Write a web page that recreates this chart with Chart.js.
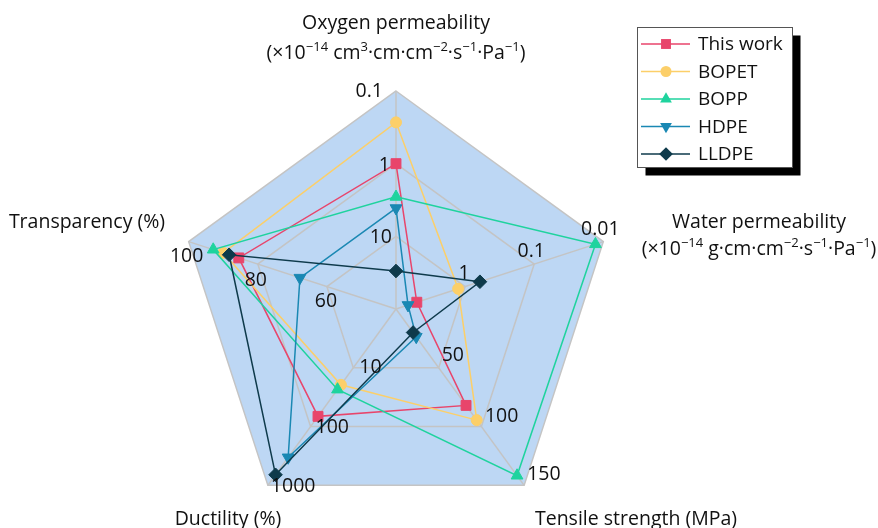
<!DOCTYPE html>
<html>
<head>
<meta charset="utf-8">
<script src="https://cdn.jsdelivr.net/npm/chart.js@4.4.1/dist/chart.umd.min.js"></script>
<style>
  html, body { margin: 0; padding: 0; background: #ffffff; overflow: hidden; }
  canvas { display: block; }
</style>
</head>
<body>
<canvas id="c" width="878" height="528"></canvas>
<script>
// ---------- data ----------
const axisNames = ['Oxygen permeability', 'Water permeability', 'Tensile strength (MPa)', 'Ductility (%)', 'Transparency (%)'];
const seriesNames = ['This work', 'BOPET', 'BOPP', 'HDPE', 'LLDPE'];
// values in axis order: oxygen perm, water perm, tensile strength, ductility, transparency
const thisWork = [1.0, 5.0, 82, 67, 85.5];
const bopet    = [0.27, 1.26, 94.5, 19.5, 90];
const bopp     = [2.86, 0.013, 141.7, 23.4, 92.9];
const hdpe     = [4.1, 6.7, 23.7, 335, 67.8];
const lldpe    = [30, 0.61, 20, 661, 88.3];
// tick labels per axis (inner ring -> outer ring)
const oxygenTicks       = ['10', '1', '0.1'];
const waterTicks        = ['1', '0.1', '0.01'];
const tensileTicks      = ['50', '100', '150'];
const ductilityTicks    = ['10', '100', '1000'];
const transparencyTicks = ['60', '80', '100'];
const axisTicks = [oxygenTicks, waterTicks, tensileTicks, ductilityTicks, transparencyTicks];

// each axis maps its own units onto the shared 0..3 radial scale
const toLevel = [
  v => 2 - Math.log10(v),   // oxygen: 100 at centre, 0.1 at rim (log, reversed)
  v => 1 - Math.log10(v),   // water: 10 at centre, 0.01 at rim (log, reversed)
  v => v / 50,              // tensile: 0..150 linear
  v => Math.log10(v),       // ductility: 1..1000 log
  v => (v - 40) / 20        // transparency: 40..100 linear
];

// ---------- styles ----------
const FONT = '"Open Sans", "Noto Sans", sans-serif';
const FS = 19.5;
const colors = ['#e8456b', '#fccf69', '#1fd39e', '#1a88b3', '#0e3a4b'];
const styles = ['rect', 'circle', 'triangle', 'triangle', 'rectRot'];
const rotations = [0, 0, 0, 180, 0];
const radii = [7, 5.5, 6.8, 6.8, 6.8];
const seriesData = [thisWork, bopet, bopp, hdpe, lldpe];

const datasets = seriesData.map((arr, i) => ({
  label: seriesNames[i],
  data: arr.map((v, k) => toLevel[k](v)),
  borderColor: colors[i],
  backgroundColor: colors[i],
  pointBackgroundColor: colors[i],
  pointBorderColor: colors[i],
  pointStyle: styles[i],
  pointRotation: rotations[i],
  pointRadius: radii[i],
  pointHoverRadius: radii[i],
  pointBorderWidth: 1,
  borderWidth: 1.5,
  fill: false,
  tension: 0,
  order: seriesData.length - 1 - i
}));

// titles with superscripts as rich text segments
const axisTitles = [
  [[{t: 'Oxygen permeability'}],
   [{t: '(\u00d710'}, {t: '\u221214', s: 1}, {t: ' cm'}, {t: '3', s: 1}, {t: '\u00b7cm\u00b7cm'}, {t: '\u22122', s: 1},
    {t: '\u00b7s'}, {t: '\u22121', s: 1}, {t: '\u00b7Pa'}, {t: '\u22121', s: 1}, {t: ')'}]],
  [[{t: 'Water permeability'}],
   [{t: '(\u00d710'}, {t: '\u221214', s: 1}, {t: ' g\u00b7cm\u00b7cm'}, {t: '\u22122', s: 1},
    {t: '\u00b7s'}, {t: '\u22121', s: 1}, {t: '\u00b7Pa'}, {t: '\u22121', s: 1}, {t: ')'}]],
  [[{t: 'Tensile strength (MPa)'}]],
  [[{t: 'Ductility (%)'}]],
  [[{t: 'Transparency (%)'}]]
];
// title positions: centre x, first baseline, line gap
const titlePos = [[396, 29, 30], [759, 228, 27], [636, 525, 0], [228, 525, 0], [87, 228, 0]];

// tick label placement relative to ring vertex: [align, dx per ring, dy per ring]
const tickPlace = [
  ['right',  [-4, -6, -13], [1, 2, 0]],
  ['center', [-1, -3, -3],  [-13, -13, -12]],
  ['left',   [3, 3.5, 3],   [-12, -10, -11]],
  ['left',   [6, 5, 3],     [0, 1, 1]],
  ['center', [-1, -2, -2],  [15, 16, 15]]
];

function drawRich(ctx, segs, cx, baseline, size) {
  const subSize = Math.round(size * 0.68);
  let total = 0;
  segs.forEach(sg => {
    ctx.font = (sg.s ? subSize : size) + 'px ' + FONT;
    sg.w = ctx.measureText(sg.t).width;
    total += sg.w;
  });
  let x = cx - total / 2;
  ctx.textAlign = 'left';
  ctx.textBaseline = 'alphabetic';
  segs.forEach(sg => {
    ctx.font = (sg.s ? subSize : size) + 'px ' + FONT;
    ctx.fillText(sg.t, x, sg.s ? baseline - size * 0.42 : baseline);
    x += sg.w;
  });
}

function drawMarker(ctx, style, rot, x, y, r, color) {
  ctx.save();
  ctx.fillStyle = color;
  ctx.beginPath();
  if (style === 'rect') {
    const s = r * Math.SQRT1_2;
    ctx.rect(x - s, y - s, 2 * s, 2 * s);
  } else if (style === 'circle') {
    ctx.arc(x, y, r, 0, Math.PI * 2);
  } else if (style === 'triangle') {
    let a = rot * Math.PI / 180;
    for (let k = 0; k < 3; k++) {
      const px = x + Math.sin(a) * r, py = y - Math.cos(a) * r;
      if (k === 0) ctx.moveTo(px, py); else ctx.lineTo(px, py);
      a += 2 * Math.PI / 3;
    }
    ctx.closePath();
  } else if (style === 'rectRot') {
    ctx.moveTo(x, y - r); ctx.lineTo(x + r, y); ctx.lineTo(x, y + r); ctx.lineTo(x - r, y);
    ctx.closePath();
  }
  ctx.fill();
  ctx.restore();
}

const decorPlugin = {
  id: 'decor',
  afterDatasetsDraw(chart) {
    const ctx = chart.ctx;
    const scale = chart.scales.r;
    ctx.save();
    ctx.fillStyle = '#111111';
    // per-axis tick labels
    axisTicks.forEach((ticks, ai) => {
      const [align, dxs, dys] = tickPlace[ai];
      ticks.forEach((lab, ti) => {
        const p = scale.getPointPositionForValue(ai, toLevel[ai](parseFloat(lab)));
        ctx.font = FS + 'px ' + FONT;
        ctx.textAlign = align;
        ctx.textBaseline = 'middle';
        ctx.fillText(lab, p.x + dxs[ti], p.y + dys[ti]);
      });
    });
    // axis titles
    axisTitles.forEach((lines, ai) => {
      const [cx, by, gap] = titlePos[ai];
      lines.forEach((segs, li) => drawRich(ctx, segs, cx, by + li * gap, FS));
    });
    // legend
    const L = 637.5, T = 27.5, Wd = 155, Hd = 140;
    ctx.fillStyle = '#000000';
    ctx.fillRect(L + 8, T + 8, Wd, Hd);
    ctx.fillStyle = '#ffffff';
    ctx.fillRect(L, T, Wd, Hd);
    ctx.strokeStyle = '#555555';
    ctx.lineWidth = 1;
    ctx.strokeRect(L, T, Wd, Hd);
    chart.data.datasets.forEach((ds, i) => {
      const y = 44 + i * 27.5;
      ctx.strokeStyle = ds.borderColor;
      ctx.lineWidth = 1.5;
      ctx.beginPath();
      ctx.moveTo(641, y); ctx.lineTo(690, y);
      ctx.stroke();
      drawMarker(ctx, ds.pointStyle, ds.pointRotation, 666, y, ds.pointRadius, ds.pointBackgroundColor);
      ctx.fillStyle = '#111111';
      ctx.font = '19px ' + FONT;
      ctx.textAlign = 'left';
      ctx.textBaseline = 'middle';
      ctx.fillText(ds.label, 698, y + 1);
    });
    ctx.restore();
  }
};

new Chart(document.getElementById('c'), {
  type: 'radar',
  data: { labels: axisNames, datasets: datasets },
  options: {
    responsive: false,
    animation: false,
    events: [],
    layout: { padding: { left: 178, right: 264, top: 91, bottom: 1 } },
    plugins: { legend: { display: false }, tooltip: { enabled: false }, title: { display: false } },
    scales: {
      r: {
        min: 0, max: 3,
        startAngle: 0,
        backgroundColor: '#bdd7f4',
        ticks: { display: false, stepSize: 1 },
        pointLabels: { display: false },
        grid: { color: '#c4c4c4', lineWidth: 1.5 },
        angleLines: { color: '#c4c4c4', lineWidth: 1.5 }
      }
    }
  },
  plugins: [decorPlugin]
});
</script>
</body>
</html>
